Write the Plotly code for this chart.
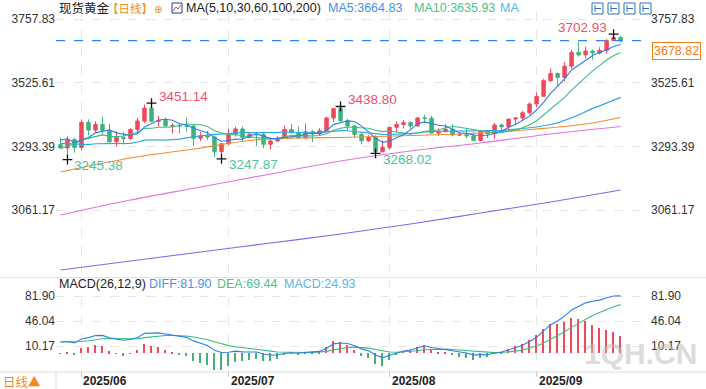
import plotly.graph_objects as go
import pandas as pd
import numpy as np

# ---------------- data ----------------
dates = pd.bdate_range("2025-05-28", "2025-09-17").strftime("%Y-%m-%d").tolist()

opens = [3300, 3288, 3318,
         3289, 3381, 3353, 3373, 3352, 3310, 3326, 3322, 3355, 3386, 3433, 3385, 3388, 3369, 3370, 3368, 3368, 3323, 3332, 3328, 3274,
         3303, 3338, 3357, 3326, 3337, 3336, 3301, 3313, 3324, 3355, 3343, 3324, 3347, 3339, 3350, 3397, 3431, 3387, 3368, 3337, 3314, 3326, 3274,
         3289, 3363, 3373, 3380, 3368, 3397, 3396, 3342, 3348, 3356, 3335, 3336, 3332, 3315, 3348, 3339, 3371, 3365, 3393, 3397, 3416,
         3448, 3476, 3533, 3559, 3545, 3586, 3636, 3627, 3641, 3634, 3643, 3679, 3690]
highs = [3325, 3330, 3325,
         3392, 3392, 3385, 3403, 3375, 3349, 3347, 3360, 3397, 3446, 3451.14, 3404, 3399, 3378, 3375, 3398, 3371, 3347, 3350, 3329, 3305,
         3358, 3365, 3366, 3345, 3343, 3346, 3325, 3330, 3369, 3375, 3366, 3377, 3353, 3361, 3402, 3434, 3438.80, 3394, 3373, 3345, 3334, 3334, 3315,
         3363, 3385, 3390, 3385, 3400, 3409, 3405, 3359, 3375, 3375, 3346, 3358, 3345, 3350, 3352, 3379, 3376, 3394, 3398, 3423, 3454,
         3490, 3540, 3578, 3563, 3600, 3646, 3674, 3657, 3646, 3655, 3685, 3702.93, 3697]
lows = [3285, 3245.38, 3271,
        3279, 3334, 3344, 3339, 3307, 3293, 3300, 3316, 3338, 3379, 3381, 3366, 3362, 3340, 3341, 3347, 3295, 3312, 3317, 3255, 3247.87,
        3298, 3329, 3311, 3322, 3296, 3287, 3282, 3310, 3322, 3341, 3320, 3319, 3310, 3332, 3345, 3383, 3382, 3351, 3325, 3301, 3309, 3268.02, 3272,
        3281, 3346, 3359, 3357, 3364, 3380, 3341, 3331, 3343, 3330, 3332, 3323, 3314, 3311, 3324, 3321, 3351, 3351, 3373, 3386, 3408,
        3436, 3475, 3528, 3511, 3530, 3578, 3621, 3614, 3610, 3628, 3632, 3677, 3672]
closes = [3288, 3318, 3289,
          3381, 3353, 3373, 3352, 3310, 3326, 3322, 3355, 3386, 3433, 3385, 3388, 3369, 3370, 3368, 3367, 3323, 3332, 3328, 3274, 3303,
          3338, 3357, 3326, 3337, 3336, 3301, 3313, 3324, 3355, 3343, 3324, 3347, 3339, 3350, 3397, 3431, 3387, 3368, 3337, 3314, 3326, 3274, 3289,
          3363, 3373, 3380, 3368, 3397, 3396, 3342, 3348, 3356, 3335, 3336, 3332, 3315, 3348, 3339, 3371, 3365, 3393, 3397, 3416, 3448,
          3476, 3533, 3559, 3545, 3586, 3636, 3627, 3641, 3634, 3643, 3679, 3690, 3678.82]
# closes before the first visible candle (2025-03-31 .. 2025-05-27)
prior_closes = [3123, 3113, 3133, 3114, 3037, 2982, 2982, 3083, 3175, 3237, 3210, 3230, 3342, 3327,
                3424, 3381, 3288, 3349, 3319, 3343, 3317, 3288, 3239, 3241, 3334, 3431, 3365, 3307, 3324,
                3235, 3249, 3178, 3240, 3202, 3230, 3290, 3314, 3294, 3357, 3342, 3300]

# long moving averages (candle index, value)
ma60_idx = [0, 10, 20, 27, 34, 40, 50, 60, 68, 75, 80]
ma60_val = [3200.0, 3251.1, 3287.5, 3314.9, 3324.0, 3325.8, 3333.1, 3342.2, 3356.8, 3375.0, 3398.7]
ma100_idx = [0, 10, 20, 30, 40, 50, 60, 70, 80]
ma100_val = [3043.3, 3098.0, 3145.4, 3192.8, 3240.2, 3276.7, 3305.8, 3338.6, 3366.0]
ma200_idx = [0, 10, 20, 30, 40, 50, 60, 70, 80]
ma200_val = [2842.8, 2875.6, 2908.4, 2941.2, 2974.0, 3010.5, 3050.6, 3090.7, 3134.4]

price_ticks = [3757.83, 3525.61, 3293.39, 3061.17]
macd_ticks = [81.90, 46.04, 10.17]
month_labels = ["2025/06", "2025/07", "2025/08", "2025/09"]
last_price = 3678.82

# ---------------- derived ----------------
n = len(dates)
idx = list(range(n))
allc = pd.Series(prior_closes + closes)
P = len(prior_closes)
ma5 = allc.rolling(5).mean().iloc[P:].tolist()
ma10 = allc.rolling(10).mean().iloc[P:].tolist()
ma30 = allc.rolling(30).mean().iloc[P:].tolist()
ema12 = allc.ewm(span=12, adjust=False).mean()
ema26 = allc.ewm(span=26, adjust=False).mean()
diff = ema12 - ema26
dea = diff.ewm(span=9, adjust=False).mean()
diff_v = diff.iloc[P:].tolist()
dea_v = dea.iloc[P:].tolist()
hist_v = (2 * (diff - dea)).iloc[P:].tolist()

month_pos = [i for i in range(1, n) if dates[i][5:7] != dates[i - 1][5:7]]

RED = "#ee4a5b"
GREEN = "#3fb27d"
FONT = "Liberation Sans, Arial, Noto Sans CJK SC"
CJK = "Noto Sans CJK SC, Liberation Sans"

W, H = 706, 389
L, R = 56, 56
PW = W - L - R


def xp(px):
    return (px - L) / PW


def yp(py):
    return 1 - py / H


fig = go.Figure()

fig.add_trace(go.Candlestick(
    x=idx, open=opens, high=highs, low=lows, close=closes,
    increasing=dict(line=dict(color=RED, width=1), fillcolor=RED),
    decreasing=dict(line=dict(color=GREEN, width=1), fillcolor=GREEN),
    whiskerwidth=0, xaxis="x", yaxis="y", showlegend=False, hoverinfo="skip"))

fig.add_trace(go.Scatter(x=ma200_idx, y=ma200_val, mode="lines", line=dict(color="#8b66e8", width=1.2, shape="spline"),
                         xaxis="x", yaxis="y", showlegend=False))
fig.add_trace(go.Scatter(x=ma100_idx, y=ma100_val, mode="lines", line=dict(color="#e274d8", width=1.2, shape="spline"),
                         xaxis="x", yaxis="y", showlegend=False))
fig.add_trace(go.Scatter(x=ma60_idx, y=ma60_val, mode="lines", line=dict(color="#f68b2c", width=1.2, shape="spline"),
                         xaxis="x", yaxis="y", showlegend=False))
fig.add_trace(go.Scatter(x=idx, y=ma30, mode="lines", line=dict(color="#2ea8e4", width=1.2),
                         xaxis="x", yaxis="y", showlegend=False))
fig.add_trace(go.Scatter(x=idx, y=ma10, mode="lines", line=dict(color="#3cbc80", width=1.1),
                         xaxis="x", yaxis="y", showlegend=False))
fig.add_trace(go.Scatter(x=idx, y=ma5, mode="lines", line=dict(color="#2f7fea", width=1.1),
                         xaxis="x", yaxis="y", showlegend=False))

# high / low markers
extremes = [(13, "high"), (40, "high"), (79, "high"), (1, "low"), (23, "low"), (45, "low")]
mx = [i for i, _ in extremes]
my = [highs[i] if k == "high" else lows[i] for i, k in extremes]
fig.add_trace(go.Scatter(x=mx, y=my, mode="markers",
                         marker=dict(symbol="cross-thin", size=7, line=dict(color="#111", width=1.3)),
                         xaxis="x", yaxis="y", showlegend=False, hoverinfo="skip"))

# left duplicate axes (invisible traces)
fig.add_trace(go.Scatter(x=[0], y=[None], xaxis="x", yaxis="y3", showlegend=False))
fig.add_trace(go.Scatter(x=[0], y=[None], xaxis="x2", yaxis="y4", showlegend=False))

# MACD panel
fig.add_trace(go.Bar(x=idx, y=hist_v, width=0.22,
                     marker=dict(color=[RED if v >= 0 else GREEN for v in hist_v], line=dict(width=0)),
                     xaxis="x2", yaxis="y2", showlegend=False, hoverinfo="skip"))
fig.add_trace(go.Scatter(x=idx, y=dea_v, mode="lines", line=dict(color="#3cbc80", width=1.1),
                         xaxis="x2", yaxis="y2", showlegend=False))
fig.add_trace(go.Scatter(x=idx, y=diff_v, mode="lines", line=dict(color="#2f7fea", width=1.1),
                         xaxis="x2", yaxis="y2", showlegend=False))

# ---------------- layout ----------------
def price_at(py):
    return 3757.83 - (py - 19) * (232.22 / 63.7)


def macd_at(py):
    return (353.1 - py) * 1.4346


xr = [-0.64, 84.2]
main_dom = [yp(277), yp(12)]
macd_dom = [yp(371), yp(280)]
yr_main = [price_at(277), price_at(12)]
yr_macd = [macd_at(371), macd_at(280)]

axis_font = dict(family=FONT, size=12, color="#333")
grid = dict(showgrid=True, gridcolor="#e6e6e6", griddash="dash", gridwidth=1)

fig.update_layout(
    width=W, height=H, margin=dict(l=L, r=R, t=0, b=0, autoexpand=False),
    paper_bgcolor="white", plot_bgcolor="white", showlegend=False, bargap=0,
    xaxis=dict(domain=[0, 1], range=xr, anchor="y", tickvals=month_pos, showticklabels=False, ticks="",
               zeroline=False, rangeslider=dict(visible=False), **grid),
    xaxis2=dict(domain=[0, 1], range=xr, anchor="y2", tickvals=month_pos, showticklabels=False, ticks="",
                zeroline=False, matches="x", **grid),
    yaxis=dict(domain=main_dom, range=yr_main, side="right", tickvals=price_ticks,
               ticktext=[f"{v:.2f}" for v in price_ticks], tickfont=axis_font, zeroline=False,
               ticks="", anchor="x", **grid),
    yaxis3=dict(domain=main_dom, range=yr_main, side="left", overlaying="y", tickvals=price_ticks,
                ticktext=[f"{v:.2f}" for v in price_ticks], tickfont=axis_font, showgrid=False, zeroline=False,
                ticks="", anchor="x"),
    yaxis2=dict(domain=macd_dom, range=yr_macd, side="right", tickvals=macd_ticks,
                ticktext=[f"{v:.2f}" for v in macd_ticks], tickfont=axis_font, zeroline=False,
                ticks="", anchor="x2", **grid),
    yaxis4=dict(domain=macd_dom, range=yr_macd, side="left", overlaying="y2", tickvals=macd_ticks,
                ticktext=[f"{v:.2f}" for v in macd_ticks], tickfont=axis_font, showgrid=False, zeroline=False,
                ticks="", anchor="x2"),
)

shapes = []
# current price dashed line
shapes.append(dict(type="line", xref="paper", yref="y", x0=0, x1=1, y0=last_price, y1=last_price,
                   line=dict(color="#2b86ee", width=1.2, dash="dash")))
# separators
shapes.append(dict(type="line", xref="paper", yref="paper", x0=xp(0), x1=xp(W), y0=yp(277.5), y1=yp(277.5),
                   line=dict(color="#e2e2e2", width=1)))
shapes.append(dict(type="line", xref="paper", yref="paper", x0=xp(0), x1=xp(W), y0=yp(372), y1=yp(372),
                   line=dict(color="#dcdcdc", width=1)))
shapes.append(dict(type="line", xref="paper", yref="paper", x0=0, x1=0, y0=yp(389), y1=yp(372),
                   line=dict(color="#dcdcdc", width=1)))
for m in month_pos:
    shapes.append(dict(type="line", xref="x", yref="paper", x0=m, x1=m, y0=yp(372), y1=yp(377),
                       line=dict(color="#c8c8c8", width=1)))
# top-right toolbar icons
for k, x0 in enumerate([592, 608, 624, 640]):
    shapes.append(dict(type="rect", xref="paper", yref="paper", x0=xp(x0), x1=xp(x0 + 11), y0=yp(14), y1=yp(3),
                       line=dict(color="#2d6fc0", width=1), fillcolor="white"))
    shapes.append(dict(type="line", xref="paper", yref="paper", x0=xp(x0 + 3), x1=xp(x0 + 3), y0=yp(12), y1=yp(5),
                       line=dict(color="#2d6fc0", width=1)))
    shapes.append(dict(type="line", xref="paper", yref="paper", x0=xp(x0 + 3), x1=xp(x0 + 9), y0=yp(8.5), y1=yp(8.5),
                       line=dict(color="#2d6fc0", width=1)))
# MA icon
shapes.append(dict(type="rect", xref="paper", yref="paper", x0=xp(172), x1=xp(182), y0=yp(13), y1=yp(3),
                   line=dict(color="#1d3f8f", width=1), fillcolor="white"))
shapes.append(dict(type="path", xref="paper", yref="paper",
                   path=f"M {xp(173)},{yp(11)} L {xp(176)},{yp(7)} L {xp(178)},{yp(9)} L {xp(181)},{yp(5)}",
                   line=dict(color="#e04050", width=1)))
fig.update_layout(shapes=shapes)

ann = []


def txt(text, px, py, color="#222", size=12, family=FONT, xanchor="left", bold=False, **kw):
    ann.append(dict(text=f"<b>{text}</b>" if bold else text, xref="paper", yref="paper", x=xp(px), y=yp(py),
                    xanchor=xanchor, yanchor="middle", showarrow=False,
                    font=dict(family=family, size=size, color=color), **kw))


txt("现货黄金", 57, 8, "#222", 12.5, CJK)
txt("【日线】", 105, 8, "#f28a1e", 11.5, CJK)
txt("⊕", 152, 9, "#f28a1e", 10, "DejaVu Sans")
txt("MA(5,10,30,60,100,200)", 184, 8, "#222", 12.5)
txt("MA5:3664.83", 326, 8, "#4b8fe8", 12.5)
txt("MA10:3635.93", 412, 8, "#4cc38a", 12.5)
txt("MA", 498, 8, "#5ab4e8", 12.5)

txt("MACD(26,12,9)", 57, 284, "#222", 12.5)
txt("DIFF:81.90", 147, 284, "#4b8fe8", 12.5)
txt("DEA:69.44", 215, 284, "#4cc38a", 12.5)
txt("MACD:24.93", 282, 284, "#5ab4e8", 12.5)

txt("日线▲", 1, 381, "#f28a1e", 12.5, CJK)
for m, lab in zip(month_pos, month_labels):
    ann.append(dict(text=f"<b>{lab}</b>", xref="x", yref="paper", x=m, y=yp(381), xanchor="left",
                    yanchor="middle", xshift=0, showarrow=False,
                    font=dict(family=FONT, size=12, color="#222")))

txt("1QH.CN", 640, 353, "rgba(190,190,190,0.55)", 30, FONT, xanchor="center", bold=True)

# price box
ann.append(dict(text=f"{last_price:.2f}", xref="paper", yref="paper", x=xp(652), y=yp(42), xanchor="left",
                yanchor="top", showarrow=False, font=dict(family=FONT, size=12.5, color="#f27d10"),
                bordercolor="#f27d10", borderwidth=1, borderpad=1, bgcolor="white"))

# extreme labels
for (i, k), v in zip(extremes, my):
    color = "#f0506a" if k == "high" else "#4fc29a"
    if i == 79:
        xa, xs = "right", -5
    else:
        xa, xs = "left", 5
    ys = 7 if k == "high" else -6
    ann.append(dict(text=f"{v:.2f}", xref="x", yref="y", x=i, y=v, xanchor=xa, yanchor="middle",
                    xshift=xs, yshift=ys, showarrow=False,
                    font=dict(family=FONT, size=13.5, color=color)))

fig.update_layout(annotations=ann)
fig.write_html("out.html", config={"displayModeBar": False},
               post_script="document.body.style.margin='0px';document.body.style.overflow='hidden';")
